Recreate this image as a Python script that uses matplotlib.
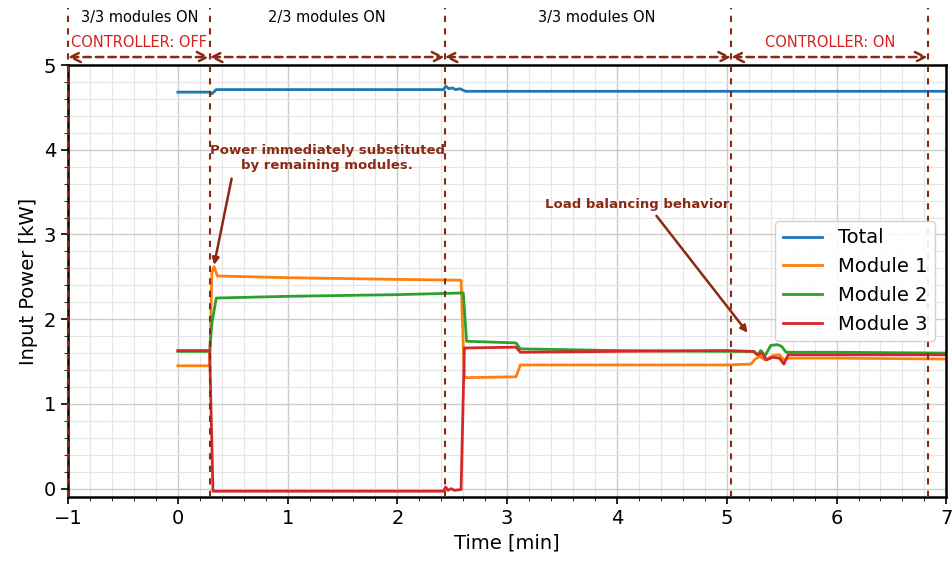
import numpy as np
import matplotlib.pyplot as plt
from matplotlib.ticker import MultipleLocator

# Данные
t_total = [0.0, 0.29, 0.31, 0.35, 1.0, 2.0, 2.42, 2.44, 2.47, 2.50, 2.53, 2.57, 2.62, 3.5, 5.0, 6.0, 7.0]
p_total = [4.68, 4.68, 4.66, 4.71, 4.71, 4.71, 4.71, 4.75, 4.72, 4.73, 4.71, 4.72, 4.69, 4.69, 4.69, 4.69, 4.69]

t_m1 = [0.0, 0.29, 0.31, 0.33, 0.36, 1.0, 2.0, 2.58, 2.61, 3.08, 3.12, 4.0, 5.0, 5.22, 5.26, 5.30, 5.35, 5.42, 5.48, 5.52, 5.56, 6.0, 7.0]
p_m1 = [1.45, 1.45, 2.55, 2.62, 2.51, 2.49, 2.47, 2.46, 1.31, 1.32, 1.46, 1.46, 1.46, 1.47, 1.53, 1.56, 1.52, 1.57, 1.58, 1.52, 1.54, 1.54, 1.53]

t_m2 = [0.0, 0.29, 0.31, 0.35, 1.0, 2.0, 2.60, 2.63, 3.08, 3.12, 4.0, 5.0, 5.25, 5.28, 5.31, 5.35, 5.40, 5.46, 5.50, 5.54, 6.0, 7.0]
p_m2 = [1.62, 1.62, 1.95, 2.25, 2.27, 2.29, 2.31, 1.74, 1.72, 1.65, 1.63, 1.62, 1.62, 1.58, 1.63, 1.57, 1.69, 1.70, 1.68, 1.61, 1.61, 1.60]

t_m3 = [0.0, 0.29, 0.32, 1.0, 2.0, 2.42, 2.44, 2.46, 2.49, 2.52, 2.58, 2.61, 3.08, 3.12, 4.0, 5.0, 5.24, 5.28, 5.32, 5.36, 5.42, 5.48, 5.52, 5.56, 6.0, 7.0]
p_m3 = [1.63, 1.63, -0.03, -0.03, -0.03, -0.03, 0.02, -0.02, 0.0, -0.02, -0.01, 1.66, 1.67, 1.61, 1.62, 1.63, 1.62, 1.58, 1.60, 1.52, 1.55, 1.54, 1.47, 1.58, 1.58, 1.58]

# Границы интервалов и подписи
bounds = [-1.0, 0.29, 2.43, 5.04, 6.83]
modules_text = ['3/3 modules ON', '2/3 modules ON', '3/3 modules ON']
modules_x = [-0.35, 1.36, 3.82]
ctrl_text = ['CONTROLLER: OFF', 'CONTROLLER: ON']
ctrl_x = [-0.35, 5.94]

brown = '#8b2a12'

fig = plt.figure(figsize=(9.53, 5.63), dpi=100)
ax = fig.add_axes([0.0714, 0.117, 0.9216, 0.7675])

ax.plot(t_total, p_total, color='#1f77b4', lw=2, label='Total')
ax.plot(t_m1, p_m1, color='#ff7f0e', lw=2, label='Module 1')
ax.plot(t_m2, p_m2, color='#2ca02c', lw=2, label='Module 2')
ax.plot(t_m3, p_m3, color='#d62728', lw=2, label='Module 3')

ax.set_xlim(-1, 7)
ax.set_ylim(-0.1, 5)
ax.xaxis.set_major_locator(MultipleLocator(1))
ax.xaxis.set_minor_locator(MultipleLocator(0.2))
ax.yaxis.set_major_locator(MultipleLocator(1))
ax.yaxis.set_minor_locator(MultipleLocator(0.2))
ax.grid(True, which='major', color='#cccccc', lw=1)
ax.grid(True, which='minor', color='#e6e6e6', lw=0.8)
ax.tick_params(labelsize=14, width=1.2, length=5)
ax.tick_params(which='minor', length=3)
for s in ax.spines.values():
    s.set_linewidth(1.8)

ax.set_xlabel('Time [min]', fontsize=14)
ax.set_ylabel('Input Power [kW]', fontsize=14)

# Вертикальные линии и стрелки сверху
tr = ax.get_xaxis_transform()
for b in bounds:
    ax.plot([b, b], [0, 1.132], transform=tr, color=brown, ls=(0, (3, 3)),
            lw=1.5, clip_on=False, zorder=5)
for a, b in zip(bounds[:-1], bounds[1:]):
    ax.annotate('', xy=(b, 1.0185), xytext=(a, 1.0185), xycoords=tr,
                textcoords=tr, annotation_clip=False,
                arrowprops=dict(arrowstyle='<->', color=brown, lw=1.8,
                                ls=(0, (3, 2)), shrinkA=0, shrinkB=0,
                                mutation_scale=18))
for txt, x in zip(modules_text, modules_x):
    ax.text(x, 1.109, txt, transform=tr, ha='center', va='center', fontsize=10.5)
for txt, x in zip(ctrl_text, ctrl_x):
    ax.text(x, 1.053, txt, transform=tr, ha='center', va='center',
            fontsize=10.5, color='#d42020')

# Аннотации
ax.text(1.36, 3.9, 'Power immediately substituted\nby remaining modules.',
        ha='center', va='center', fontsize=9.5, fontweight='bold', color=brown)
ax.annotate('', xy=(0.33, 2.64), xytext=(0.49, 3.66),
            arrowprops=dict(arrowstyle='-|>', color=brown, lw=1.8,
                            shrinkA=0, shrinkB=0))
ax.text(4.18, 3.35, 'Load balancing behavior', ha='center', va='center',
        fontsize=9.5, fontweight='bold', color=brown)
ax.annotate('', xy=(5.19, 1.84), xytext=(4.36, 3.22),
            arrowprops=dict(arrowstyle='-|>', color=brown, lw=1.8,
                            shrinkA=0, shrinkB=0))

ax.legend(loc='center right', bbox_to_anchor=(0.998, 0.50), fontsize=14,
          framealpha=0.9)

fig.savefig('out.png', dpi=100)
